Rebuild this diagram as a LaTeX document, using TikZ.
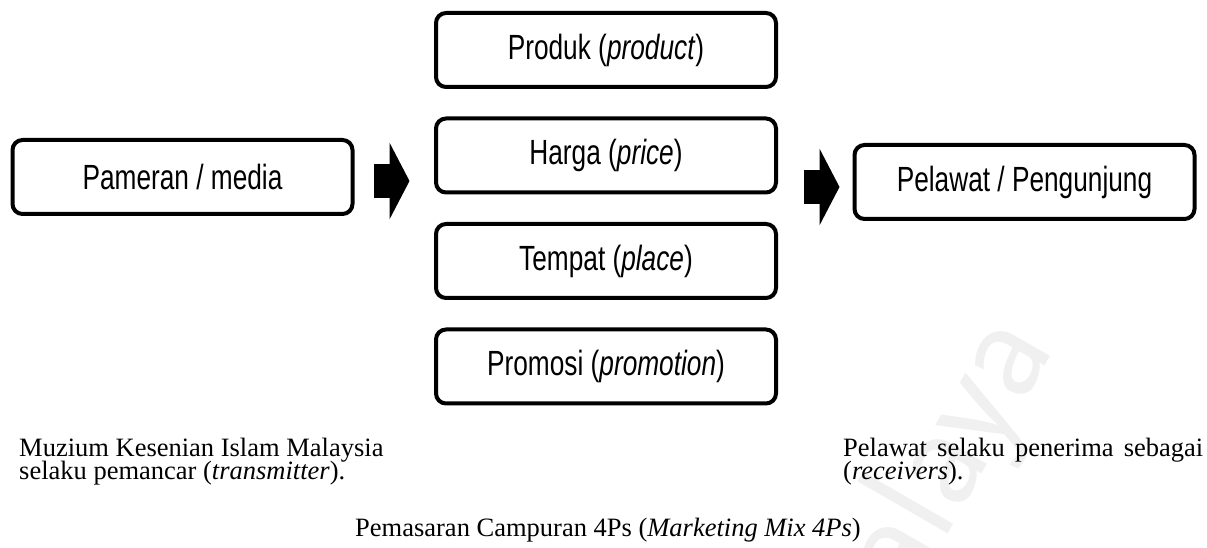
\documentclass[tikz,border=0pt]{standalone}
\usepackage{fontspec}
\setmainfont{Liberation Serif}
\newfontfamily\boxfont{Liberation Sans}[FakeStretch=0.75]
\usetikzlibrary{positioning, arrows.meta, calc}

\begin{document}
\begin{tikzpicture}[ x = 1pt, y = 1pt
                   , node distance = 27.5pt
                   , mixbox/.style = { rectangle
                                     , rounded corners = 10pt
                                     , draw = black
                                     , line width = 4pt
                                     , minimum width = 340pt
                                     , minimum height = 74pt
                                     , inner sep = 0pt
                                     , font = \boxfont\fontsize{35}{40}\selectfont }
                   , blockarrow/.style = { line width = 34pt
                                         , -{Triangle[width = 76pt, length = 20pt]} }
                   , notetext/.style = { inner sep = 0pt
                                       , anchor = base west
                                       , font = \fontsize{26.5}{22}\selectfont }
                   ]

  \useasboundingbox (0,0) rectangle (1207,548);

  % faint watermark behind everything
  \begin{scope}
    \clip (0,0) rectangle (1207,548);
    \node[rotate = 60, anchor = base east, inner sep = 0pt, text = black!6,
          font = \sffamily\fontsize{150}{150}\selectfont] (watermark) at (1055,200) {Malaya};
  \end{scope}

  % the four Ps
  \node[mixbox] (produk) at (606,498) {Produk (\textit{product})};
  \node[mixbox, below = of produk] (harga) {Harga (\textit{price})};
  \node[mixbox, below = of harga] (tempat) {Tempat (\textit{place})};
  \node[mixbox, below = of tempat] (promosi) {Promosi (\textit{promotion})};

  \node[mixbox] (pameran) at (182.5,371) {Pameran / media};
  \node[mixbox] (pelawat) at (1024.5,366) {Pelawat / Pengunjung};

  \draw[blockarrow] ([shift={(19,-4)}]pameran.east) -- ([shift={(55,-4)}]pameran.east);
  \draw[blockarrow] ([shift={(-49,-5)}]pelawat.west) -- ([shift={(-13,-5)}]pelawat.west);

  % notes under the boxes
  \node[notetext] (muzium) at (19,91) {Muzium Kesenian Islam Malaysia};
  \node[notetext] (pemancar) at ([yshift=-22.5pt]muzium.base west) {selaku pemancar (\textit{transmitter}).};

  \node[notetext] (penerima) at (843,91) {\makebox[360pt][s]{Pelawat selaku penerima sebagai}};
  \node[notetext] (receivers) at ([yshift=-22.5pt]penerima.base west) {(\textit{receivers}).};

  \node[notetext, anchor = base] (caption) at (608,11) {Pemasaran Campuran 4Ps (\textit{Marketing Mix 4Ps})};

\end{tikzpicture}
\end{document}
